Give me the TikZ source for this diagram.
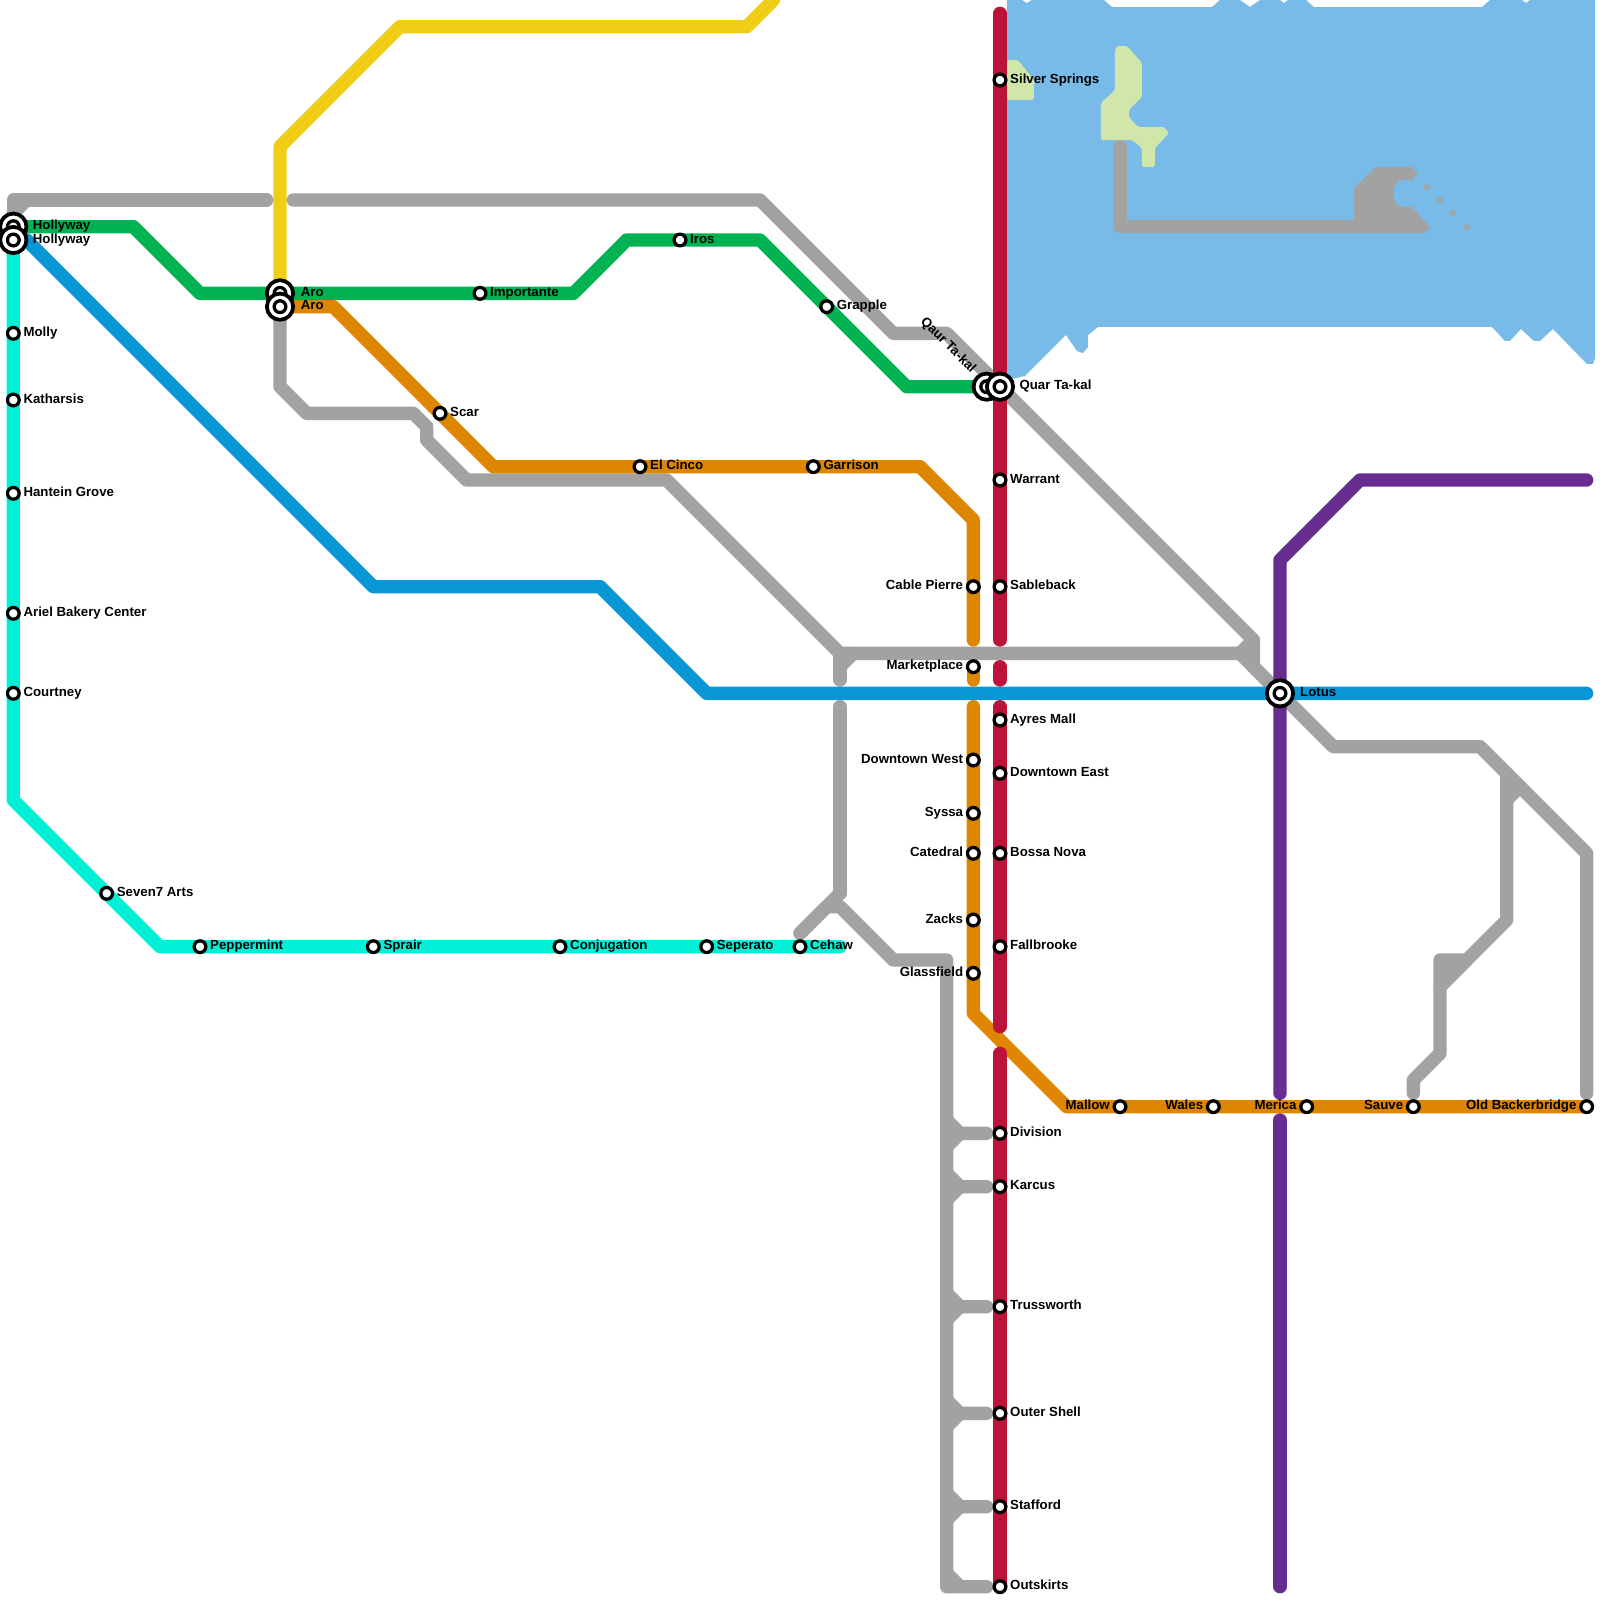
\documentclass[tikz,border=0pt]{standalone}
\usepackage{fontspec}
\setmainfont{Liberation Sans}
\pgfdeclarelayer{lake}
\pgfdeclarelayer{lines}
\pgfsetlayers{lake,lines,main}
\definecolor{cLake}{HTML}{79BBE8}
\definecolor{cLand}{HTML}{D1E6A9}
\definecolor{cGray}{HTML}{A2A2A2}
\definecolor{cRed}{HTML}{BC133A}
\definecolor{cOrange}{HTML}{DF8600}
\definecolor{cGreen}{HTML}{00B251}
\definecolor{cBlue}{HTML}{0896D7}
\definecolor{cCyan}{HTML}{00F0D8}
\definecolor{cPurple}{HTML}{662C90}
\definecolor{cYellow}{HTML}{F0CE15}
\tikzset{
  x=0.4cm,y=-0.4cm,
  metro/.style={line width=11.38pt,line cap=round,line join=round},
  stn/.style={circle,draw=black,fill=white,line width=2.8pt,inner sep=0pt,minimum size=10pt,outer sep=0pt},
  hub/.style={circle,draw=black,fill=white,line width=3.2pt,inner sep=0pt,minimum size=22.4pt,outer sep=0pt},
  lbl/.style={font=\fontsize{11.3pt}{13pt}\selectfont\bfseries,inner sep=0pt,text=black},
  px/.style={x=0.03cm,y=-0.03cm}
}
\newcommand{\StnR}[4]{\node[stn] (#1) at (#2,#3) {}; \node[lbl,anchor=base west] (#1-t) at ([shift={(0.75,0.24)}]#2,#3) {#4};}
\newcommand{\StnL}[4]{\node[stn] (#1) at (#2,#3) {}; \node[lbl,anchor=base east] (#1-t) at ([shift={(-0.75,0.24)}]#2,#3) {#4};}
\newcommand{\HubR}[5]{\node[hub] (#1-o) at (#2,#3) {}; \node[stn] (#1) at (#2,#3) {}; \node[lbl,anchor=base west] (#1-t) at ([shift={(#5,0.24)}]#2,#3) {#4};}
\begin{document}
\begin{tikzpicture}
\useasboundingbox (0,0) rectangle (120,120);
% stations
\HubR{holA}{1}{17}{Hollyway}{1.45}
\HubR{holB}{1}{18}{Hollyway}{1.45}
\HubR{aroA}{21}{22}{Aro}{1.55}
\HubR{aroB}{21}{23}{Aro}{1.55}
\node[hub] (quarA-o) at (74,29) {}; \node[stn] (quarA) at (74,29) {};
\node[lbl,rotate=-45] (quarA-t) at (71.1,25.9) {Qaur Ta-kal};
\HubR{quarB}{75}{29}{Quar Ta-kal}{1.45}
\HubR{lotus}{96}{52}{Lotus}{1.5}
\StnR{molly}{1}{25}{Molly}
\StnR{kath}{1}{30}{Katharsis}
\StnR{hant}{1}{37}{Hantein Grove}
\StnR{ariel}{1}{46}{Ariel Bakery Center}
\StnR{court}{1}{52}{Courtney}
\StnR{seven}{8}{67}{Seven7 Arts}
\StnR{pepp}{15}{71}{Peppermint}
\StnR{sprair}{28}{71}{Sprair}
\StnR{conj}{42}{71}{Conjugation}
\StnR{sep}{53}{71}{Seperato}
\StnR{cehaw}{60}{71}{Cehaw}
\StnR{imp}{36}{22}{Importante}
\StnR{iros}{51}{18}{Iros}
\StnR{grap}{62}{23}{Grapple}
\StnR{scar}{33}{31}{Scar}
\StnR{cinco}{48}{35}{El Cinco}
\StnR{garr}{61}{35}{Garrison}
\StnR{silver}{75}{6}{Silver Springs}
\StnR{warr}{75}{36}{Warrant}
\StnR{sable}{75}{44}{Sableback}
\StnR{ayres}{75}{54}{Ayres Mall}
\StnR{dteast}{75}{58}{Downtown East}
\StnR{bossa}{75}{64}{Bossa Nova}
\StnR{fall}{75}{71}{Fallbrooke}
\StnR{divi}{75}{85}{Division}
\StnR{karc}{75}{89}{Karcus}
\StnR{truss}{75}{98}{Trussworth}
\StnR{outer}{75}{106}{Outer Shell}
\StnR{staff}{75}{113}{Stafford}
\StnR{outsk}{75}{119}{Outskirts}
\StnL{cable}{73}{44}{Cable Pierre}
\StnL{market}{73}{50}{Marketplace}
\StnL{dtwest}{73}{57}{Downtown West}
\StnL{syssa}{73}{61}{Syssa}
\StnL{cate}{73}{64}{Catedral}
\StnL{zacks}{73}{69}{Zacks}
\StnL{glass}{73}{73}{Glassfield}
\StnL{mallow}{84}{83}{Mallow}
\StnL{wales}{91}{83}{Wales}
\StnL{merica}{98}{83}{Merica}
\StnL{sauve}{106}{83}{Sauve}
\StnL{oldb}{119}{83}{Old Backerbridge}
% free ends
\coordinate (yEnd) at (58,0);
\coordinate (gA) at (20,15);
\coordinate (gB) at (22,15);
\coordinate (bEnd) at (119,52);
\coordinate (pTop) at (119,36);
\coordinate (pA) at (96,82);
\coordinate (pB) at (96,84);
\coordinate (pEnd) at (96,119);
\coordinate (rTop) at (75,1);
\coordinate (cEnd) at (63,71);
% lake
\begin{pgfonlayer}{lake}
\begin{scope}[px]
\fill[cLake] (1007,0)--(1022,0)--(1027,3)--(1032,0)--(1104,0)--(1112,7)--(1212,7)--(1220,0)--(1240,0)--(1250,7)--(1260,0)--(1280,0)--(1284,3)--(1288,0)--(1306,0)--(1314,7)--(1482,7)--(1490,0)--(1522,0)--(1526,3)--(1530,0)--(1595,0)--(1595,358)--(1593,364)--(1587,364)--(1553,329)--(1540,341)--(1534,341)--(1521,329)--(1510,341)--(1505,341)--(1492,327)--(1098,327)--(1088,335)--(1088,347)--(1083,353)--(1077,351)--(1066,335)--(1025,376)--(1007,380)--cycle;
\fill[cLand,rounded corners=1.5pt] (1007,60)--(1018,60)--(1034,80)--(1034,100)--(1007,100)--cycle;
\fill[cLand,rounded corners=1.5pt] (1117,46)--(1127,46)--(1142,63)--(1142,97)--(1129,110)--(1129,117)--(1138,127)--(1164,127)--(1169,133)--(1155,148)--(1155,167)--(1142,167)--(1142,148)--(1132,140)--(1101,140)--(1101,103)--(1115,90)--(1115,50)--cycle;
\fill[cGray] (1354,188)--(1376,167)--(1412,167)--(1418,173)--(1412,180)--(1400,180)--(1394,187)--(1394,200)--(1400,207)--(1412,207)--(1430,227)--(1425,233)--(1340,233)--(1340,220)--(1354,220)--cycle;
\foreach \dx/\dy in {1427/187,1440/200,1453/213,1467/227}
  \fill[cGray] (\dx-3.5,\dy)--(\dx,\dy-3.5)--(\dx+3.5,\dy)--(\dx,\dy+3.5)--cycle;
\end{scope}
\end{pgfonlayer}
% lines
\begin{pgfonlayer}{lines}
\begin{scope}[metro]
\draw[cGray] (holA.center)--(1,15)--(gA);
\draw[cGray] (1,16)--(2,15);
\draw[cGray] (gB)--(57,15)--(67,25)--(71,25)--(94,48)--(94,50)--(lotus.center)--(100,56)--(111,56)--(119,64)--(119,82);
\draw[cGray] (aroB.center)--(21,29)--(23,31)--(31,31)--(32,32)--(32,33)--(35,36)--(50,36)--(63,49)--(93,49)--(lotus.center);
\draw[cGray] (93,49)--(94,48);
\draw[cGray] (63,49)--(63,51);
\draw[cGray] (63,50)--(64,49);
\draw[cGray] (63,53)--(63,67);
\draw[cGray] (63,67)--(60,70);
\draw[cGray] (60,70)--(62,68)--(63,68)--(67,72)--(71,72)--(71,119)--(74,119);
\foreach \yy in {85,89,98,106,113}{
  \draw[cGray] (71,\yy-1)--(72,\yy)--(74,\yy);
  \draw[cGray] (72,\yy)--(71,\yy+1);
}
\draw[cGray] (71,118)--(72,119);
\draw[cGray] (84,11)--(84,17)--(106,17);
\draw[cGray] (113,58)--(113,69)--(108,74)--(108,79)--(106,81)--(106,82);
\draw[cGray] (113,60)--(114,59);
\draw[cGray,fill=cGray] (108,72)--(110,72)--(108,74)--cycle;
\draw[cYellow] (aroA.center)--(21,11)--(30,2)--(56,2)--(yEnd);
\draw[cCyan] (holB.center)--(1,60)--(12,71)--(cEnd);
\draw[cBlue] (holB.center)--(2,18)--(28,44)--(45,44)--(53,52)--(bEnd);
\draw[cOrange] (aroB.center)--(25,23)--(37,35)--(69,35)--(73,39)--(73,48);
\draw[cOrange] (market.center)--(73,51);
\draw[cOrange] (73,53)--(73,76)--(80,83)--(oldb.center);
\draw[cGreen] (holA.center)--(10,17)--(15,22)--(43,22)--(47,18)--(57,18)--(68,29)--(quarA.center);
\draw[cPurple] (pTop)--(102,36)--(96,42)--(pA);
\draw[cPurple] (pB)--(pEnd);
\draw[cRed] (rTop)--(75,48);
\draw[cRed] (75,50)--(75,51);
\draw[cRed] (75,53)--(75,77);
\draw[cRed] (75,79)--(outsk.center);
\end{scope}
\end{pgfonlayer}
\end{tikzpicture}
\end{document}
